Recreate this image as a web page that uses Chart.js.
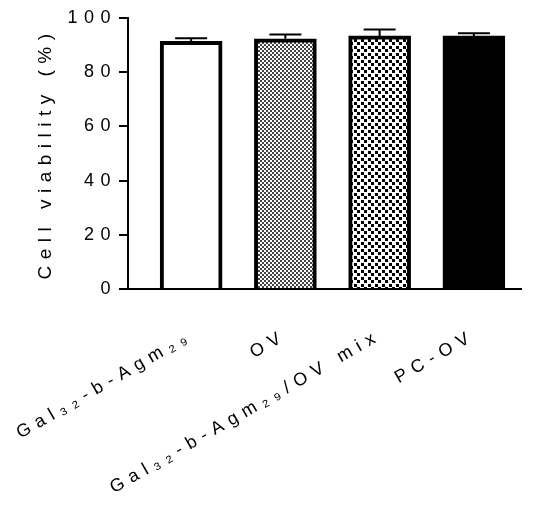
<!DOCTYPE html>
<html>
<head>
<meta charset="utf-8">
<script src="https://cdn.jsdelivr.net/npm/chart.js@4"></script>
<style>
  body { margin: 0; background: #fff; }
  #wrap { width: 550px; height: 514px; }
</style>
</head>
<body>
<div id="wrap"><canvas id="chart" width="550" height="514"></canvas></div>
<script>
// data
const groups = ['Gal₃₂-b-Agm₂₉', 'OV', 'Gal₃₂-b-Agm₂₉/OV mix', 'PC-OV'];
const viability = [91.4, 92.3, 93.4, 93.4];
const sem = [1.1, 1.6, 2.4, 0.95];
const yTicks = [0, 20, 40, 60, 80, 100];

// fill patterns for the bars
function makePattern(size, cell, color) {
    const c = document.createElement('canvas');
    c.width = size;
    c.height = size;
    const g = c.getContext('2d');
    g.fillStyle = '#fff';
    g.fillRect(0, 0, size, size);
    g.fillStyle = color;
    g.fillRect(0, 0, cell, cell);
    g.fillRect(Math.ceil(size / 2), Math.ceil(size / 2), cell, cell);
    return g.createPattern(c, 'repeat');
}
const ctx = document.getElementById('chart').getContext('2d');
const fills = ['#fff', makePattern(4, 2, '#444'), makePattern(7, 3, '#000'), '#000'];

// wide letter spacing like the exported figure
const spacing = {
    id: 'spacing',
    beforeLayout(chart) { chart.ctx.letterSpacing = '6.5px'; },
    beforeDraw(chart) { chart.ctx.letterSpacing = '6.5px'; }
};

// SEM whiskers
const errorBars = {
    id: 'errorBars',
    afterDatasetsDraw(chart) {
        const c = chart.ctx;
        const x = chart.scales.x, y = chart.scales.y;
        c.save();
        c.strokeStyle = '#000';
        c.lineWidth = 2;
        viability.forEach((v, i) => {
            const px = x.getPixelForValue(i + 1);
            const base = y.getPixelForValue(v);
            const top = y.getPixelForValue(v + sem[i]);
            c.beginPath();
            c.moveTo(px, base);
            c.lineTo(px, top);
            c.moveTo(px - 16, top);
            c.lineTo(px + 16, top);
            c.stroke();
        });
        c.restore();
    }
};

Chart.defaults.font.family = '"Liberation Sans", Arial, sans-serif';
Chart.defaults.color = '#000';

new Chart(ctx, {
    type: 'bar',
    data: {
        datasets: [{
            data: groups.map((g, i) => ({ x: i + 1, y: viability[i] })),
            backgroundColor: fills,
            borderColor: '#000',
            borderWidth: 4,
            borderSkipped: 'start',
            barThickness: 62
        }]
    },
    options: {
        responsive: false,
        animation: false,
        layout: { padding: { top: 18, right: 29, left: 0, bottom: 0 } },
        plugins: { legend: { display: false }, tooltip: { enabled: false } },
        scales: {
            x: {
                type: 'linear',
                offset: false,
                min: 0.33,
                max: 4.5,
                afterBuildTicks: s => { s.ticks = groups.map((g, i) => ({ value: i + 1 })); },
                afterFit: s => { s.height = 225; s.paddingLeft = 0; s.paddingRight = 0; },
                grid: { display: false },
                border: { color: '#000', width: 2 },
                ticks: {
                    autoSkip: false,
                    minRotation: 30,
                    maxRotation: 30,
                    padding: 28,
                    font: { size: 18 },
                    callback: v => groups[v - 1]
                }
            },
            y: {
                min: 0,
                max: 100,
                afterBuildTicks: s => { s.ticks = yTicks.map(v => ({ value: v })); },
                afterFit: s => { s.width = 128; s.paddingTop = 0; s.paddingBottom = 0; },
                grid: { drawOnChartArea: false, tickLength: 9, color: '#000', lineWidth: 2 },
                border: { color: '#000', width: 2 },
                ticks: { padding: 2, font: { size: 18 } },
                title: {
                    display: true,
                    text: 'Cell viability (%)',
                    font: { size: 19 },
                    padding: { top: 34, bottom: 0 }
                }
            }
        }
    },
    plugins: [spacing, errorBars]
});
</script>
</body>
</html>
